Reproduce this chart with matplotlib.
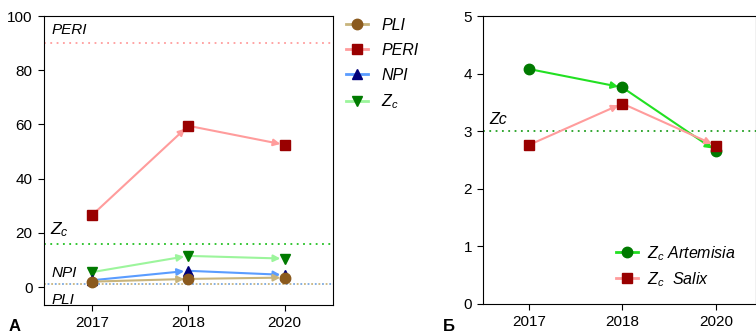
import numpy as np
import matplotlib.pyplot as plt
import matplotlib.lines as mlines

plt.rcParams['font.family'] = ['Liberation Sans', 'DejaVu Sans']
plt.rcParams['font.size'] = 10
plt.rcParams['mathtext.fontset'] = 'custom'
plt.rcParams['mathtext.it'] = 'Liberation Sans:italic'
plt.rcParams['mathtext.rm'] = 'Liberation Sans'

# Data
years = ['2017', '2018', '2020']

pli = [2.0, 3.0, 3.5]
peri = [26.5, 59.5, 52.5]
npi = [2.5, 6.0, 4.5]
zc = [5.5, 11.5, 10.5]

thr_peri = 90
thr_zc = 16
thr_npi = 1
thr_pli = 1

zc_artemisia = [4.08, 3.76, 2.66]
zc_salix = [2.76, 3.48, 2.75]
thr_zc_b = 3

# colours: (line, marker)
c_pli = ('#c8b47c', '#8b5a1e')
c_peri = ('#ff9c9c', '#990000')
c_npi = ('#5a9cff', '#00007a')
c_zc = ('#9cf59c', '#007a00')
c_art = ('#22e022', '#007a00')

MS = {'o': 7.5, 's': 7, '^': 7.5, 'v': 7.5}


def draw_series(ax, x, y, colors, marker):
    line_c, mark_c = colors
    for i in range(len(x) - 1):
        ax.annotate('', xy=(x[i + 1], y[i + 1]), xytext=(x[i], y[i]),
                    arrowprops=dict(arrowstyle='-|>', color=line_c, lw=1.5,
                                    shrinkA=0, shrinkB=3, mutation_scale=10),
                    zorder=3)
    ax.plot(x, y, linestyle='none', marker=marker, ms=MS[marker], color=mark_c,
            markeredgecolor=mark_c, zorder=4)


def handle(colors, marker):
    return mlines.Line2D([], [], color=colors[0], marker=marker, ms=MS[marker],
                         mfc=colors[1], mec=colors[1], lw=2)


fig = plt.figure(figsize=(7.56, 3.34), dpi=100)

# ---- panel A ----
ax1 = fig.add_axes([0.058, 0.087, 0.382, 0.865])
x = np.arange(len(years))

for val, col in [(thr_peri, c_peri[0]), (thr_zc, '#22c022')]:
    ax1.axhline(val, color=col, linestyle=(0, (1, 2.5)), lw=1.3, zorder=1)
ax1.axhline(thr_pli, color='#c8b47c', linestyle=(0, (1, 3)), lw=1.3, zorder=1)
ax1.axhline(thr_npi, color='#7aa8e0', linestyle=(2, (1, 3)), lw=1.3, zorder=1)

draw_series(ax1, x, peri, c_peri, 's')
draw_series(ax1, x, zc, c_zc, 'v')
draw_series(ax1, x, npi, c_npi, '^')
draw_series(ax1, x, pli, c_pli, 'o')

ax1.text(-0.42, 93.5, 'PERI', style='italic', fontsize=11)
ax1.text(-0.44, 19.5, r'$Z_c$', fontsize=12.5)
ax1.text(-0.42, 3.8, 'NPI', style='italic', fontsize=11)
ax1.text(-0.42, -6.3, 'PLI', style='italic', fontsize=11)

ax1.set_xlim(-0.5, 2.5)
ax1.set_ylim(-6.6, 100)
ax1.set_yticks([0, 20, 40, 60, 80, 100])
ax1.set_xticks(x)
ax1.set_xticklabels(years)
ax1.tick_params(labelsize=11, length=4, pad=4)

handles = [handle(c_pli, 'o'), handle(c_peri, 's'), handle(c_npi, '^'), handle(c_zc, 'v')]
labels = ['PLI', 'PERI', 'NPI', r'$Z_c$']
fig.legend(handles, labels, loc='upper left', bbox_to_anchor=(346 / 756, 1 - 18 / 334),
           frameon=False, prop={'style': 'italic', 'size': 11.5}, handlelength=1.35,
           handletextpad=0.85, labelspacing=0.62, borderpad=0, borderaxespad=0)

fig.text(0.012, 0.008, 'А', fontsize=12, fontweight='bold')

# ---- panel B ----
ax2 = fig.add_axes([0.639, 0.09, 0.361, 0.862])
ax2.axhline(thr_zc_b, color='#22a022', linestyle=(0, (1, 2.5)), lw=1.3, zorder=1)
draw_series(ax2, x, zc_artemisia, c_art, 'o')
draw_series(ax2, x, zc_salix, c_peri, 's')
ax2.text(-0.42, 3.13, 'Zc', style='italic', fontsize=11.5)

ax2.set_xlim(-0.49, 2.43)
ax2.set_ylim(0, 5)
ax2.set_yticks([0, 1, 2, 3, 4, 5])
ax2.set_xticks(x)
ax2.set_xticklabels(years)
ax2.tick_params(labelsize=11, length=4, pad=4)

h2 = [handle(c_art, 'o'), handle(c_peri, 's')]
fig.legend(h2, [r'$Z_c$ Artemisia', r'$Z_c$  Salix'], loc='upper left',
           bbox_to_anchor=(616 / 756, 1 - 244 / 334), frameon=False,
           prop={'style': 'italic', 'size': 11.5}, handlelength=1.35,
           handletextpad=0.6, labelspacing=0.45, borderpad=0, borderaxespad=0)

fig.text(0.586, 0.008, 'Б', fontsize=12, fontweight='bold')

fig.savefig('out.png', dpi=100)
